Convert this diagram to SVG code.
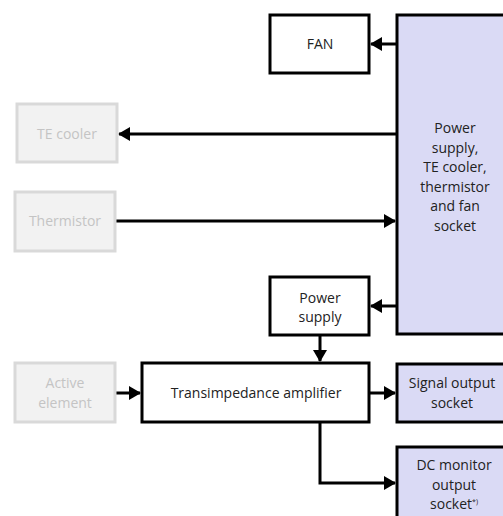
<svg xmlns="http://www.w3.org/2000/svg" width="503" height="516" viewBox="0 0 503 516">
<defs>
<style>
text{font-family:"Open Sans","Noto Sans","Liberation Sans",sans-serif;font-size:14px;text-anchor:middle;fill:#222}
.ext rect{fill:#f2f2f2;stroke:#d9d9d9;stroke-width:3}
.ext text{fill:#c4c4c4}
.blk rect{fill:#fff;stroke:#000;stroke-width:3}
.sock rect{fill:#dadaf5;stroke:#000;stroke-width:3}
.con path{fill:none;stroke:#000;stroke-width:3}
</style>
<marker id="ah" viewBox="0 0 12 14" refX="11" refY="7" markerWidth="12" markerHeight="14" markerUnits="userSpaceOnUse" orient="auto">
<path d="M0,0 L12,7 L0,14 Z" fill="#000"/>
</marker>
</defs>
<rect width="503" height="516" fill="#fff"/>
<g class="con">
<path d="M397,44 H371" marker-end="url(#ah)"/>
<path d="M397,134 H119" marker-end="url(#ah)"/>
<path d="M116,221 H395" marker-end="url(#ah)"/>
<path d="M397,306 H371" marker-end="url(#ah)"/>
<path d="M320,335 V361" marker-end="url(#ah)"/>
<path d="M116,393 H140" marker-end="url(#ah)"/>
<path d="M370,393 H395" marker-end="url(#ah)"/>
<path d="M320,423 V483 H395" marker-end="url(#ah)"/>
</g>
<g id="fan" class="blk"><rect x="270" y="15" width="99" height="58"/><text x="320" y="49">FAN</text></g>
<g id="psu-socket" class="sock"><rect x="397" y="15" width="116" height="319"/>
<text x="455" y="133">Power</text><text x="455" y="152.5">supply,</text><text x="455" y="172">TE cooler,</text><text x="455" y="191.5">thermistor</text><text x="455" y="211">and fan</text><text x="455" y="230.5">socket</text></g>
<g id="te-cooler" class="ext"><rect x="17" y="104" width="100" height="58"/><text x="67" y="138.5">TE cooler</text></g>
<g id="thermistor" class="ext"><rect x="15" y="192" width="100" height="59"/><text x="65" y="226">Thermistor</text></g>
<g id="power-supply" class="blk"><rect x="270" y="277" width="99" height="58"/><text x="320" y="302.5">Power</text><text x="320" y="322">supply</text></g>
<g id="active-element" class="ext"><rect x="15" y="363" width="100" height="59"/><text x="65" y="388">Active</text><text x="65" y="407.5">element</text></g>
<g id="tia" class="blk"><rect x="142" y="363" width="227" height="59"/><text x="256" y="398">Transimpedance amplifier</text></g>
<g id="signal-output" class="sock"><rect x="397" y="364" width="116" height="58"/><text x="452" y="388">Signal output</text><text x="452" y="407.5">socket</text></g>
<g id="dc-monitor" class="sock"><rect x="397" y="447" width="116" height="80"/><text x="454" y="470">DC monitor</text><text x="454" y="489.5">output</text><text x="454" y="509">socket<tspan font-size="7" dy="-5">*)</tspan></text></g>
</svg>
